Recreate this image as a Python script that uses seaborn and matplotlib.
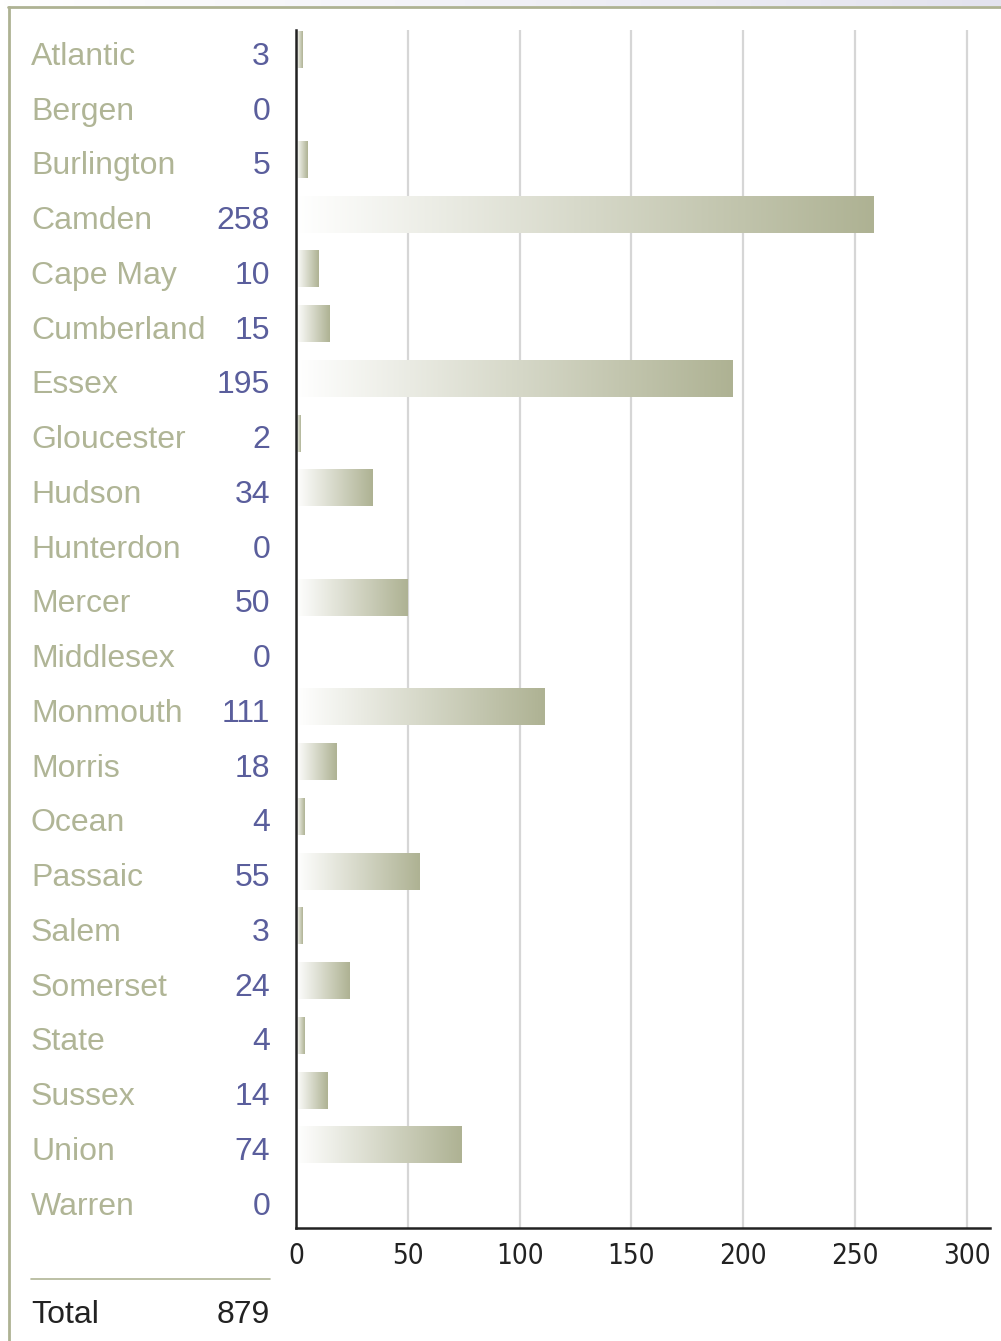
import matplotlib.pyplot as plt
import matplotlib.transforms as mtransforms
from matplotlib.colors import LinearSegmentedColormap
from matplotlib.lines import Line2D
import numpy as np
import seaborn as sns

# county counts
counties = ['Atlantic', 'Bergen', 'Burlington', 'Camden', 'Cape May', 'Cumberland',
            'Essex', 'Gloucester', 'Hudson', 'Hunterdon', 'Mercer', 'Middlesex',
            'Monmouth', 'Morris', 'Ocean', 'Passaic', 'Salem', 'Somerset', 'State',
            'Sussex', 'Union', 'Warren']
counts = [3, 0, 5, 258, 10, 15, 195, 2, 34, 0, 50, 0, 111, 18, 4, 55, 3, 24, 4, 14, 74, 0]
total_label = 'Total'
total_value = 879
xticks = [0, 50, 100, 150, 200, 250, 300]

OLIVE = '#aeb293'
LABEL = '#b0b596'
VALUE = '#5a5e9c'
DARK = '#222222'

sns.set_style('white')
plt.rcParams['font.family'] = ['Liberation Sans', 'DejaVu Sans']

W, H = 1001, 1341
fig = plt.figure(figsize=(W / 100, H / 100), dpi=100)
ax = fig.add_axes([296 / W, 1 - 1228 / H, (990 - 296) / W, (1228 - 30) / H])

sns.barplot(x=counts, y=counties, orient='h', ax=ax, width=0.675, color=OLIVE)

# gradient fill: white -> olive along each bar
cmap = LinearSegmentedColormap.from_list('bar', ['#ffffff', OLIVE])
grad = np.linspace(0, 1, 256).reshape(1, -1)
for p in ax.patches:
    x0, y0 = p.get_x(), p.get_y()
    w, h = p.get_width(), p.get_height()
    p.set_visible(False)
    if w <= 0:
        continue
    ax.imshow(grad, cmap=cmap, aspect='auto', extent=[x0, x0 + w, y0 + h, y0],
              zorder=1, interpolation='bicubic')

ax.set_xlim(0, 310.3)
ax.set_ylim(21.516, -0.365)
ax.set_xticks(xticks)
ax.set_yticks([])
ax.set_xlabel('')
ax.set_ylabel('')
ax.set_axisbelow(True)
ax.xaxis.grid(True, color='#d6d6d6', lw=1.6)
ax.yaxis.grid(False)
for s in ['top', 'right']:
    ax.spines[s].set_visible(False)
for s in ['left', 'bottom']:
    ax.spines[s].set_color(DARK)
    ax.spines[s].set_linewidth(1.8)
ax.tick_params(axis='x', length=0, pad=10)
for t in ax.get_xticklabels():
    t.set_family('DejaVu Sans')
    t.set_stretch('condensed')
    t.set_fontsize(20)
    t.set_color(DARK)

# left-hand table of labels and values
tr = mtransforms.blended_transform_factory(fig.transFigure, ax.transData)
for i, (name, v) in enumerate(zip(counties, counts)):
    ax.text(31 / W, i + 0.27, name, transform=tr, ha='left', va='baseline',
            fontsize=23, color=LABEL, clip_on=False)
    ax.text(270 / W, i + 0.27, str(v), transform=tr, ha='right', va='baseline',
            fontsize=23, color=VALUE, clip_on=False)

fig.add_artist(Line2D([31 / W, 270 / W], [1 - 1279 / H] * 2, color=LABEL, lw=1.2))
fig.text(31 / W, 1 - 1323 / H, total_label, ha='left', va='baseline', fontsize=23, color=DARK)
fig.text(270 / W, 1 - 1323 / H, str(total_value), ha='right', va='baseline', fontsize=23, color=DARK)

# frame: light band at the top plus olive borders
band = fig.add_axes([0, 1 - 6 / H, 1, 6 / H])
band.imshow(np.linspace(0, 1, 256).reshape(1, -1), aspect='auto',
            cmap=LinearSegmentedColormap.from_list('band', ['#ffffff', '#e3e3ee']))
band.axis('off')
fig.add_artist(Line2D([8 / W, 1], [1 - 7 / H] * 2, color=OLIVE, lw=2))
fig.add_artist(Line2D([9 / W, 9 / W], [0, 1 - 7 / H], color=OLIVE, lw=2))

fig.savefig('out.png', dpi=100)
